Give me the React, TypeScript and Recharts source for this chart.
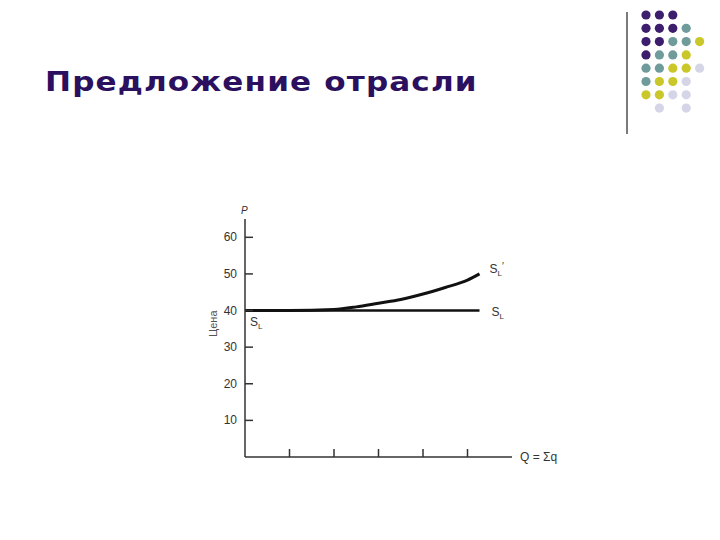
import React from 'react';
import { LineChart, Line, XAxis, YAxis } from 'recharts';

// Q values along the x axis (units of output)
const qValues = [0, 1, 2, 2.5, 3, 3.5, 4, 4.5, 5, 5.27];
// long-run supply, increasing-cost industry
const slPrimeValues = [40, 40, 40.3, 41, 42, 43, 44.5, 46.3, 48.3, 50];
// long-run supply, constant-cost industry
const slValues = [40, 40, 40, 40, 40, 40, 40, 40, 40, 40];

const yTicks = [10, 20, 30, 40, 50, 60];
const xTicks = [1, 2, 3, 4, 5];

const data = qValues.map((q, i) => ({ q, slPrime: slPrimeValues[i], sl: slValues[i] }));

// decorative dot grid in the top-right corner
const P = '#3d1e6d';
const T = '#6f9c9b';
const Y = '#c9c72a';
const L = '#d5d5e8';
const dotRows: (string | null)[][] = [
  [P, P, P],
  [P, P, P, T],
  [P, P, T, T, Y],
  [P, T, T, Y],
  [T, T, Y, Y, L],
  [T, Y, Y, L],
  [Y, Y, L, L],
  [null, L, null, L],
];

const textColor = '#333';
const font = '"Liberation Sans", Arial, sans-serif';

const YTick = (props: any) => {
  const { x, y, payload } = props;
  return (
    <g>
      <line x1={x} y1={y} x2={x + 8} y2={y} stroke="#333" strokeWidth={1.5} />
      <text x={x - 8} y={y + 4} textAnchor="end" fontSize={12} fill={textColor} fontFamily={font}>
        {payload.value}
      </text>
    </g>
  );
};

const XTick = (props: any) => {
  const { x, y } = props;
  return <line x1={x} y1={y} x2={x} y2={y - 8} stroke="#333" strokeWidth={1.5} />;
};

const SubLabel = ({ x, y, prime }: { x: number; y: number; prime?: boolean }) => (
  <text x={x} y={y} fontSize={12} fill={textColor} fontFamily={font}>
    S
    <tspan fontSize={8} dy={3}>L</tspan>
    {prime && <tspan fontSize={10} dy={-6}>′</tspan>}
  </text>
);

const lastIndex = qValues.length - 1;

export default function App() {
  return (
    <div style={{ position: 'absolute', left: 0, top: 0, width: 720, height: 540, background: '#fff' }}>
      <div
        style={{
          position: 'absolute',
          left: 45,
          top: 67,
          fontFamily: '"DejaVu Sans", sans-serif',
          fontWeight: 'bold',
          fontSize: 27,
          lineHeight: '30px',
          letterSpacing: 1,
          color: '#2b1060',
          whiteSpace: 'nowrap',
          transform: 'scaleX(1.15)',
          transformOrigin: 'left center',
        }}
      >
        Предложение отрасли
      </div>
      <svg width={720} height={140} style={{ position: 'absolute', left: 0, top: 0 }}>
        <line x1={627} y1={12} x2={627} y2={134} stroke="#222" strokeWidth={1.2} />
        {dotRows.map((row, r) =>
          row.map((c, k) =>
            c ? <circle key={`${r}-${k}`} cx={646 + k * 13.4} cy={15 + r * 13.3} r={4.6} fill={c} /> : null
          )
        )}
      </svg>
      <div style={{ position: 'absolute', left: 0, top: 0 }}>
        <LineChart width={720} height={540} data={data} margin={{ top: 219, right: 208, left: 205, bottom: 63 }}>
          <XAxis
            dataKey="q"
            type="number"
            domain={[0, 6]}
            ticks={xTicks}
            tick={<XTick />}
            tickLine={false}
            tickSize={0}
            tickMargin={0}
            height={20}
            axisLine={{ stroke: '#333', strokeWidth: 1.5 }}
            label={({ viewBox }: any) => (
              <text x={viewBox.x + viewBox.width + 8} y={viewBox.y + 4} fontSize={12} fill={textColor} fontFamily={font}>
                Q = Σq
              </text>
            )}
          />
          <YAxis
            type="number"
            domain={[0, 65]}
            ticks={yTicks}
            tick={<YTick />}
            tickLine={false}
            tickSize={0}
            tickMargin={0}
            width={40}
            axisLine={{ stroke: '#333', strokeWidth: 1.5 }}
            label={({ viewBox }: any) => (
              <g>
                <text
                  x={viewBox.x + viewBox.width - 4}
                  y={viewBox.y - 5}
                  fontSize={10}
                  fontStyle="italic"
                  fill={textColor}
                  fontFamily={font}
                >
                  P
                </text>
                <text
                  transform={`translate(${viewBox.x + 12}, ${viewBox.y + viewBox.height * 0.44}) rotate(-90)`}
                  textAnchor="middle"
                  fontSize={11}
                  fill="#555"
                  fontFamily={font}
                >
                  Цена
                </text>
              </g>
            )}
          />
          <Line
            dataKey="sl"
            type="linear"
            stroke="#111"
            strokeWidth={2.5}
            dot={false}
            isAnimationActive={false}
            label={(p: any) => {
              if (p.index === lastIndex) return <SubLabel key="sl-end" x={p.x + 12} y={p.y + 5} />;
              if (p.index === 0) return <SubLabel key="sl-start" x={p.x + 5} y={p.y + 15} />;
              return <g key={`sl-${p.index}`} />;
            }}
          />
          <Line
            dataKey="slPrime"
            type="monotone"
            stroke="#111"
            strokeWidth={3}
            dot={false}
            isAnimationActive={false}
            label={(p: any) =>
              p.index === lastIndex ? (
                <SubLabel key="slp-end" x={p.x + 10} y={p.y - 1} prime />
              ) : (
                <g key={`slp-${p.index}`} />
              )
            }
          />
        </LineChart>
      </div>
    </div>
  );
}
